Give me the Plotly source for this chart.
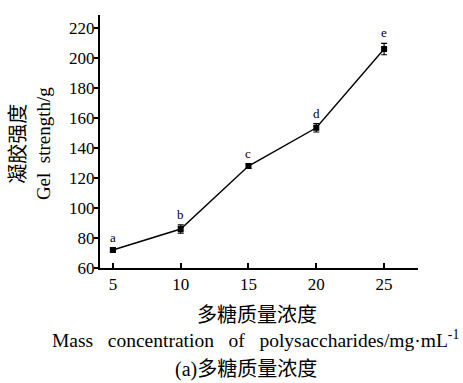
import plotly.graph_objects as go

# Gel strength vs. polysaccharide mass concentration
concentration = [5, 10, 15, 20, 25]
gel_strength = [72, 86, 128, 153.5, 206]
std_err = [1.2, 2.8, 1.5, 2.8, 3.8]
sig_letters = ["a", "b", "c", "d", "e"]
x_ticks = [5, 10, 15, 20, 25]
y_ticks = [60, 80, 100, 120, 140, 160, 180, 200, 220]

SERIF = "Liberation Serif, Times New Roman, Noto Sans CJK SC, serif"
NB = "\u00a0"

fig = go.Figure()
fig.add_trace(go.Scatter(
    x=concentration, y=gel_strength,
    mode="lines+markers",
    line=dict(color="black", width=1.4),
    marker=dict(symbol="square", size=6, color="black"),
    error_y=dict(type="data", array=std_err, color="black", thickness=1.2, width=3),
    showlegend=False,
))

# significance letters above each point
for x, y, e, t in zip(concentration, gel_strength, std_err, sig_letters):
    fig.add_annotation(x=x, y=y + e, text=t, showarrow=False, yanchor="bottom",
                       yshift=1, font=dict(family=SERIF, size=13, color="black"))

# y-axis title (two lines, rotated)
fig.add_annotation(xref="paper", yref="paper", x=-0.259, y=0.49, text="凝胶强度",
                   textangle=-90, showarrow=False, xanchor="center", yanchor="middle",
                   font=dict(family=SERIF, size=20, color="black"))
fig.add_annotation(xref="paper", yref="paper", x=-0.179, y=0.49,
                   text="Gel" + NB * 2 + "strength/g",
                   textangle=-90, showarrow=False, xanchor="center", yanchor="middle",
                   font=dict(family=SERIF, size=19, color="black"))

# x-axis title and caption
fig.add_annotation(xref="paper", yref="paper", x=0.494, y=-0.186, text="多糖质量浓度",
                   showarrow=False, xanchor="center", yanchor="middle",
                   font=dict(family=SERIF, size=20, color="black"))
fig.add_annotation(xref="paper", yref="paper", x=0.489, y=-0.281,
                   text=("Mass" + NB * 3 + "concentration" + NB * 3 + "of" + NB * 3
                         + "polysaccharides/mg·mL<sup>-1</sup>"),
                   showarrow=False, xanchor="center", yanchor="middle",
                   font=dict(family=SERIF, size=19.5, color="black"))
fig.add_annotation(xref="paper", yref="paper", x=0.459, y=-0.40, text="(a)多糖质量浓度",
                   showarrow=False, xanchor="center", yanchor="middle",
                   font=dict(family=SERIF, size=20, color="black"))

fig.update_xaxes(
    range=[4.05, 27.5], tickvals=x_ticks, ticks="inside", ticklen=5, tickwidth=1.5,
    tickcolor="black", showline=True, linecolor="black", linewidth=2,
    showgrid=False, zeroline=False,
    tickfont=dict(family=SERIF, size=17, color="black"),
)
fig.update_yaxes(
    range=[60, 228.7], tickvals=y_ticks, ticks="outside", ticklen=4, tickwidth=1.5,
    tickcolor="black", showline=True, linecolor="black", linewidth=2,
    showgrid=False, zeroline=False, ticklabelstandoff=-4,
    tickfont=dict(family=SERIF, size=17, color="black"),
)
fig.update_layout(
    width=463, height=383,
    margin=dict(l=100, r=45, t=15, b=115),
    paper_bgcolor="white", plot_bgcolor="white",
)

fig.write_html("out.html")
